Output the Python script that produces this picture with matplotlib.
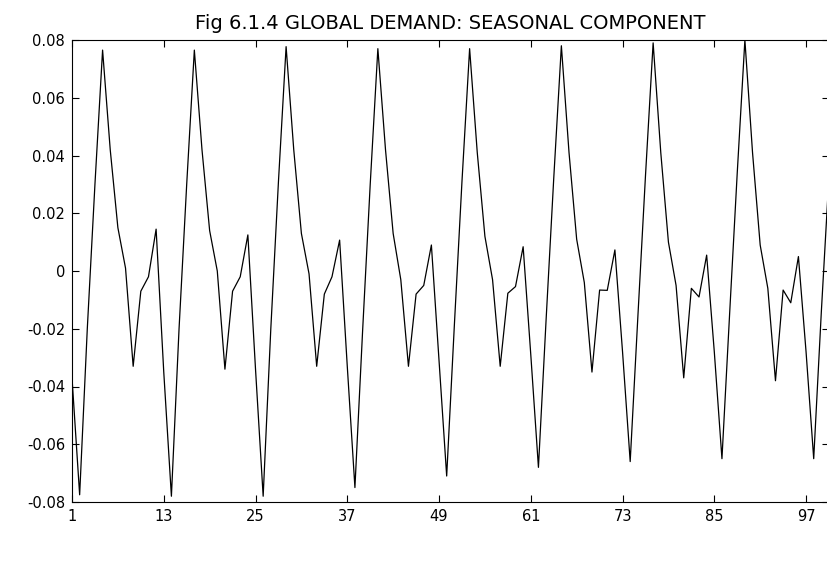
import matplotlib
matplotlib.use("Agg")
import matplotlib.pyplot as plt
import numpy as np

TITLE = "Fig 6.1.4 GLOBAL DEMAND: SEASONAL COMPONENT"

# seasonal component, months 1..100
seasonal = [
    -0.037, -0.0775, -0.020, 0.030, 0.0765, 0.042, 0.015, 0.001, -0.033, -0.007, -0.002, 0.0145,
    -0.035, -0.078, -0.020, 0.030, 0.0765, 0.042, 0.014, 0.000, -0.034, -0.007, -0.002, 0.0125,
    -0.034, -0.078, -0.020, 0.031, 0.0777, 0.042, 0.013, -0.001, -0.033, -0.008, -0.002, 0.0107,
    -0.033, -0.075, -0.021, 0.030, 0.077, 0.042, 0.013, -0.003, -0.033, -0.008, -0.005, 0.009,
    -0.031, -0.071, -0.019, 0.031, 0.077, 0.041, 0.012, -0.003, -0.033, -0.0077, -0.0054, 0.0084,
    -0.029, -0.068, -0.017, 0.032, 0.078, 0.041, 0.011, -0.004, -0.035, -0.0066, -0.0067, 0.0073,
    -0.028, -0.066, -0.016, 0.033, 0.079, 0.041, 0.010, -0.005, -0.037, -0.006, -0.009, 0.0055,
    -0.028, -0.065, -0.015, 0.034, 0.080, 0.041, 0.009, -0.006, -0.038, -0.0066, -0.011, 0.005,
    -0.028, -0.065, -0.014, 0.033,
]
months = np.arange(1, len(seasonal) + 1)

xticks = [1, 13, 25, 37, 49, 61, 73, 85, 97]
yticks = [-0.08, -0.06, -0.04, -0.02, 0, 0.02, 0.04, 0.06, 0.08]
ylabels = ["-0.08", "-0.06", "-0.04", "-0.02", "0", "0.02", "0.04", "0.06", "0.08"]

plt.rcParams["font.family"] = ["DejaVu Sans"]

fig = plt.figure(figsize=(8.27, 5.81), dpi=100)
# the original is cropped on the right, so the axes runs a bit past the edge
ax = fig.add_axes([72 / 827, 79 / 581, 757 / 827, 462 / 581])
ax.plot(months, seasonal, color="black", linewidth=0.9)

ax.set_xlim(1, 100)
ax.set_ylim(-0.08, 0.08)
ax.set_xticks(xticks)
ax.set_yticks(yticks)
ax.set_yticklabels(ylabels)
ax.tick_params(direction="in", top=True, right=True, length=5, width=0.8,
               labelsize=10.5, pad=5)
for s in ax.spines.values():
    s.set_linewidth(0.8)

ax.set_title(TITLE, fontsize=14, pad=8)

fig.savefig("out.png", dpi=100)
